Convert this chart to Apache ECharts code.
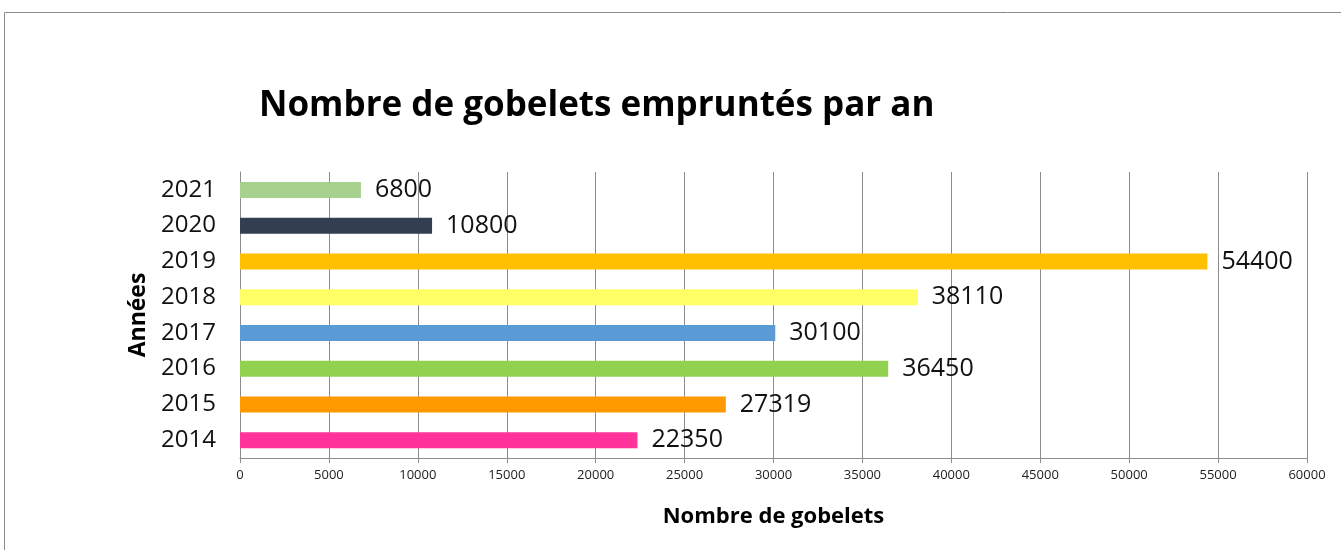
<!DOCTYPE html>
<html><head><meta charset="utf-8">
<script src="https://cdn.jsdelivr.net/npm/echarts@6/dist/echarts.min.js"></script>
<style>html,body{margin:0;padding:0;background:#fff}#c{width:1341px;height:550px}</style>
</head><body><div id="c"></div>
<script>
const years = ['2014','2015','2016','2017','2018','2019','2020','2021'];
const values = [22350, 27319, 36450, 30100, 38110, 54400, 10800, 6800];
const colors = ['#ff3399','#ff9900','#92d050','#5b9bd5','#ffff66','#ffc000','#333f50','#a9d18e'];
const xTicks = [0,5000,10000,15000,20000,25000,30000,35000,40000,45000,50000,55000,60000];
const titleText = 'Nombre de gobelets empruntés par an';
const xName = 'Nombre de gobelets';
const yName = 'Années';

const chart = echarts.init(document.getElementById('c'), null, {renderer:'canvas'});
const font = 'Open Sans, Noto Sans, sans-serif';
chart.setOption({
  animation: false,
  backgroundColor: '#fff',
  graphic: [{
    type: 'rect', shape: {x: 4.5, y: 12.5, width: 1400, height: 600},
    style: {fill: 'none', stroke: '#8c8c8c', lineWidth: 1}, silent: true
  }],
  title: {
    text: titleText, left: 254, top: 84,
    textStyle: {fontFamily: font, fontWeight: 'bold', fontSize: 35, color: '#000'}
  },
  grid: {left: 240, right: 34, top: 172, bottom: 92, containLabel: false},
  xAxis: {
    type: 'value', min: 0, max: 60000, interval: 5000,
    name: xName, nameLocation: 'middle', nameGap: 48,
    nameTextStyle: {fontFamily: font, fontWeight: 'bold', fontSize: 22, color: '#000'},
    axisLine: {show: true, lineStyle: {color: '#8c8c8c', width: 1}},
    axisTick: {show: true, length: 5, lineStyle: {color: '#8c8c8c'}},
    axisLabel: {fontFamily: font, fontSize: 13, color: '#222', margin: 11,
      formatter: v => xTicks.includes(v) ? String(v) : ''},
    splitLine: {show: true, lineStyle: {color: '#8c8c8c', width: 1}}
  },
  yAxis: {
    type: 'category', data: years,
    name: yName, nameLocation: 'middle', nameGap: 90, nameRotate: 90,
    nameTextStyle: {fontFamily: font, fontWeight: 'bold', fontSize: 23, color: '#000'},
    axisLine: {show: true, lineStyle: {color: '#8c8c8c', width: 1}},
    axisTick: {show: false},
    axisLabel: {fontFamily: font, fontSize: 24, color: '#111', margin: 24},
    splitLine: {show: false}
  },
  series: [{
    type: 'bar', barWidth: 16,
    data: values.map((v, i) => ({value: v, itemStyle: {color: colors[i]}})),
    label: {show: true, position: 'right', distance: 14,
      fontFamily: font, fontSize: 25, color: '#111'}
  }]
});
</script></body></html>
